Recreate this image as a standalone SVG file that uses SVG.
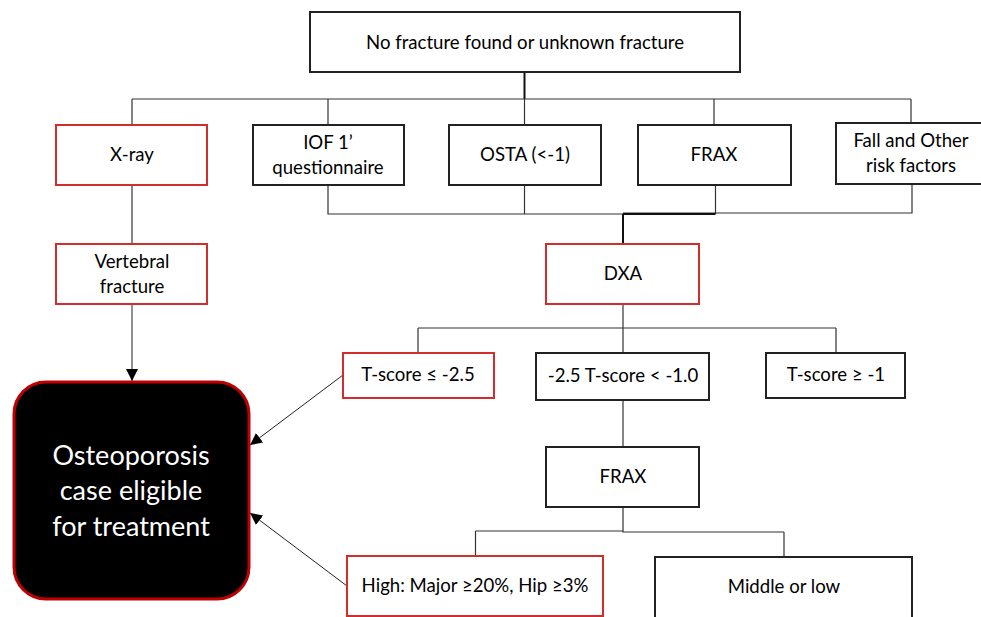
<svg xmlns="http://www.w3.org/2000/svg" width="981" height="617" viewBox="0 0 981 617">
<defs>
<style>
.box{fill:#fff;stroke:#222;stroke-width:2}
.red{fill:#fff;stroke:#d42b2b;stroke-width:2}
.t{font-family:Lato,"Open Sans","Liberation Sans",sans-serif;font-size:18.6px;fill:#000;text-anchor:middle}
.big{font-family:Lato,"Open Sans","Liberation Sans",sans-serif;font-size:27px;fill:#fff;text-anchor:middle}
.ln{fill:none;stroke:#333;stroke-width:1.2}
.thick{fill:none;stroke:#111;stroke-width:2}
.arr{fill:none;stroke:#222;stroke-width:1;marker-end:url(#ah)}
</style>
<marker id="ah" viewBox="0 0 10 10" refX="10" refY="5" markerWidth="12" markerHeight="12" markerUnits="userSpaceOnUse" orient="auto">
<path d="M0,0 L10,5 L0,10 z" fill="#000"/>
</marker>
</defs>
<rect width="981" height="617" fill="#fff"/>
<g id="connectors">
<path class="thick" d="M524.5,72 V99"/>
<path class="ln" d="M132,99 H911 M132,99 V125 M328,99 V125 M524.5,99 V125 M714,99 V125 M911,99 V123"/>
<path class="ln" d="M328,185 V214 H623 M524.5,185 V214 M715.5,185 V214 M912,184 V213 H623"/>
<path class="thick" d="M623,214 H715.5 M623,214 V244"/>
<path class="ln" d="M132,185 V244"/>
<path class="arr" d="M132,304 V381"/>
<path class="ln" d="M623,304 V328 M418,328 H836 M418,328 V353 M623,328 V353 M836,328 V353"/>
<path class="ln" d="M623,400 V447"/>
<path class="ln" d="M623,507 V531 M475.5,531 H623 V532 H784 M475.5,531 V556 M784,532 V557"/>
<path class="arr" d="M343,375 L250,445"/>
<path class="arr" d="M347,586 L250,513"/>
</g>
<g id="n-top"><rect class="box" x="310" y="12" width="430" height="60"/><text class="t" x="525" y="49">No fracture found or unknown fracture</text></g>
<g id="n-xray"><rect class="red" x="56" y="125" width="151" height="60"/><text class="t" x="132" y="161">X-ray</text></g>
<g id="n-iof"><rect class="box" x="253" y="125" width="151" height="60"/><text class="t" x="328" y="149">IOF 1’</text><text class="t" x="328" y="174">questionnaire</text></g>
<g id="n-osta"><rect class="box" x="449" y="125" width="152" height="60"/><text class="t" x="525" y="161">OSTA (&lt;-1)</text></g>
<g id="n-frax"><rect class="box" x="638" y="125" width="153" height="60"/><text class="t" x="714" y="161">FRAX</text></g>
<g id="n-fall"><rect class="box" x="836" y="123" width="150" height="61"/><text class="t" x="911" y="147">Fall and Other</text><text class="t" x="911" y="172">risk factors</text></g>
<g id="n-vert"><rect class="red" x="56" y="244" width="151" height="60"/><text class="t" x="132" y="268">Vertebral</text><text class="t" x="132" y="293">fracture</text></g>
<g id="n-dxa"><rect class="red" x="546" y="244" width="153" height="60"/><text class="t" x="623" y="280">DXA</text></g>
<g id="n-osteo"><rect x="14" y="382" width="235" height="217" rx="32" ry="32" fill="#000" stroke="#c00000" stroke-width="3"/><text class="big" x="131" y="465">Osteoporosis</text><text class="big" x="131" y="500">case eligible</text><text class="big" x="131" y="536">for treatment</text></g>
<g id="n-tlow"><rect class="red" x="343" y="353" width="151" height="45"/><text class="t" x="418" y="381">T-score ≤ -2.5</text></g>
<g id="n-tmid"><rect class="box" x="536" y="353" width="173" height="47"/><text class="t" x="623" y="382">-2.5 T-score &lt; -1.0</text></g>
<g id="n-thigh"><rect class="box" x="766" y="353" width="139" height="45"/><text class="t" x="836" y="381">T-score ≥ -1</text></g>
<g id="n-frax2"><rect class="box" x="546" y="447" width="153" height="60"/><text class="t" x="623" y="483">FRAX</text></g>
<g id="n-high"><rect class="red" x="347" y="556" width="256" height="60"/><text class="t" x="475" y="592">High: Major ≥20%, Hip ≥3%</text></g>
<g id="n-midlow"><rect class="box" x="655" y="557" width="257" height="70"/><text class="t" x="784" y="593">Middle or low</text></g>
</svg>
